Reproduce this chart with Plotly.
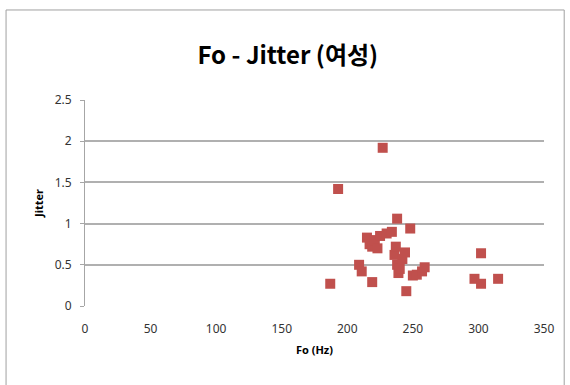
import plotly.graph_objects as go

fo_hz = [187, 193, 227, 209, 211, 219, 215, 217, 219, 221, 223, 225, 230, 234, 238,
         236, 237, 238, 239, 240, 242, 244, 245, 248, 250, 253, 257, 259, 297, 302, 302, 315]
jitter = [0.27, 1.42, 1.92, 0.50, 0.42, 0.29, 0.83, 0.75, 0.72, 0.80, 0.70, 0.85, 0.88, 0.90, 1.06,
          0.62, 0.72, 0.50, 0.40, 0.45, 0.57, 0.65, 0.18, 0.94, 0.37, 0.38, 0.42, 0.47, 0.33, 0.27, 0.64, 0.33]

x_ticks = [0, 50, 100, 150, 200, 250, 300, 350]
y_ticks = [0, 0.5, 1, 1.5, 2, 2.5]
y_tick_text = ["0", "0.5", "1", "1.5", "2", "2.5"]

fig = go.Figure()
fig.add_trace(go.Scatter(
    x=fo_hz, y=jitter, mode="markers",
    marker=dict(symbol="square", size=10, color="#C0504D", line=dict(width=0)),
    showlegend=False,
))

font_fam = "Noto Sans, Noto Sans CJK KR, sans-serif"
fig.update_layout(
    width=570, height=385,
    margin=dict(l=85, r=26, t=100, b=79),
    paper_bgcolor="white", plot_bgcolor="white",
    title=dict(text="<b>Fo - Jitter (여성)</b>", x=0.505, xanchor="center", y=0.855, yanchor="middle",
               font=dict(family="Noto Sans CJK KR, Noto Sans, sans-serif", size=24, color="black")),
    xaxis=dict(range=[0, 350], tickvals=x_ticks, showgrid=False, zeroline=False,
               showline=False, ticks="", ticklabelstandoff=14,
               tickfont=dict(family=font_fam, size=12, color="#333"),
               title=dict(text="<b>Fo (Hz)</b>", font=dict(family=font_fam, size=11, color="black"), standoff=10)),
    yaxis=dict(range=[0, 2.5], tickvals=y_ticks, ticktext=y_tick_text, showgrid=True,
               gridcolor="#b0b0b0", gridwidth=1.5, zeroline=False,
               showline=True, linecolor="#a6a6a6", linewidth=1, ticks="outside", ticklen=4,
               tickcolor="#a6a6a6", ticklabelstandoff=6,
               tickfont=dict(family=font_fam, size=12, color="#333"),
               title=dict(text="<b>Jitter</b>", font=dict(family=font_fam, size=11, color="black"), standoff=8)),
    shapes=[dict(type="rect", xref="paper", yref="paper", x0=-0.172, x1=1.044, y0=-0.40, y1=1.437,
                 line=dict(color="#a0a0a0", width=1), fillcolor="rgba(0,0,0,0)", layer="below")],
)

fig.write_html("out.html")
